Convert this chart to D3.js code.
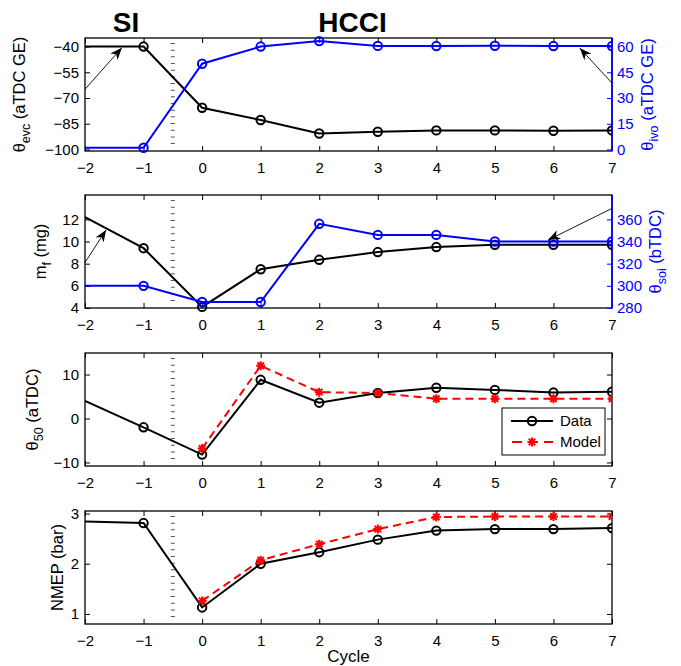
<!DOCTYPE html>
<html><head><meta charset="utf-8">
<script src="https://cdn.jsdelivr.net/npm/d3@7"></script>
<style>
body{margin:0;background:#fff;}
svg{display:block;font-family:"Liberation Sans",Arial,Helvetica,sans-serif;}
</style></head><body>
<svg id="chart" width="681" height="666"></svg>
<script>
// Engine cycle index for the SI -> HCCI mode switch
const cycles = [-2, -1, 0, 1, 2, 3, 4, 5, 6, 7];
// Exhaust valve closing / intake valve opening (deg aTDC gas exchange)
const thetaEvc = [-40, -40, -75.7, -82.8, -90.7, -89.7, -88.9, -88.9, -89.1, -88.9];
const thetaIvo = [1, 1, 50, 60, 63.2, 60.4, 60.3, 60.5, 60.3, 60.3];
// Injected fuel mass (mg) and start of injection (deg bTDC)
const fuelMass = [12.2, 9.4, 4.1, 7.5, 8.35, 9.05, 9.5, 9.7, 9.7, 9.7];
const thetaSoi = [300, 300, 285.4, 285.4, 356, 346, 346, 340, 340, 340];
// Combustion phasing CA50 (deg aTDC): measured and predicted
const theta50Data = [4.0, -2.0, -8.2, 8.8, 3.6, 5.8, 7.0, 6.5, 5.9, 6.1];
const theta50Model = [null, null, -6.8, 12.0, 6.0, 5.8, 4.5, 4.5, 4.5, 4.5];
// Net mean effective pressure (bar): measured and predicted
const nmepData = [2.84, 2.81, 1.13, 2.0, 2.23, 2.48, 2.66, 2.69, 2.69, 2.71];
const nmepModel = [null, null, 1.26, 2.07, 2.39, 2.69, 2.93, 2.94, 2.94, 2.94];

// Tick values
const xTicks = [-2, -1, 0, 1, 2, 3, 4, 5, 6, 7];
const evcTicks = [-100, -85, -70, -55, -40];
const ivoTicks = [0, 15, 30, 45, 60];
const mfTicks = [4, 6, 8, 10, 12];
const soiTicks = [280, 300, 320, 340, 360];
const t50Ticks = [-10, 0, 10];
const nmepTicks = [1, 2, 3];

// Mode switch marker and stage headings
const transitionCycle = -0.5;
const stageLabels = [{text: "SI", cycle: -1.3}, {text: "HCCI", cycle: 2.57}];
const legendItems = ["Data", "Model"];

// Arrows pointing each curve to its own axis (cycle, value on the given side)
const evcArrow = {side: "left", from: [-2, -64.9], to: [-1.37, -40.7]};
const ivoArrow = {side: "right", from: [7, 38.7], to: [6.45, 59.1]};
const mfArrow = {side: "left", from: [-2, 8.1], to: [-1.64, 11.05]};
const soiArrow = {side: "right", from: [7, 369.9], to: [5.91, 341.4]};

const BLUE = "#0000ff", RED = "#ff0000", BLACK = "#000";
const svg = d3.select("#chart");
const x = d3.scaleLinear().domain([-2, 7]).range([85, 612]);

const defs = svg.append("defs");
defs.append("marker").attr("id", "arrowHead")
  .attr("viewBox", "-12 -6 14 12").attr("refX", 0).attr("refY", 0)
  .attr("markerWidth", 14).attr("markerHeight", 12)
  .attr("markerUnits", "userSpaceOnUse").attr("orient", "auto")
  .append("path").attr("d", "M0,0 L-12,-4.8 L-8.5,0 L-12,4.8 Z").attr("fill", BLACK);

const fmt = d3.format("");

function makePanel(top, bottom, leftDomain, leftTicks, rightDomain, rightTicks) {
  const g = svg.append("g");
  const yL = d3.scaleLinear().domain(leftDomain).range([bottom, top]);
  const yR = rightDomain ? d3.scaleLinear().domain(rightDomain).range([bottom, top]) : null;
  const clipId = "clip" + top;
  defs.append("clipPath").attr("id", clipId).append("rect")
    .attr("x", x.range()[0]).attr("y", top - 6)
    .attr("width", x.range()[1] - x.range()[0]).attr("height", bottom - top + 12);

  g.append("rect").attr("x", x.range()[0]).attr("y", top)
    .attr("width", x.range()[1] - x.range()[0]).attr("height", bottom - top)
    .attr("fill", "#fff").attr("stroke", BLACK).attr("stroke-width", 1.3);

  // mode switch: dotted vertical line
  g.append("line").attr("x1", x(transitionCycle)).attr("x2", x(transitionCycle))
    .attr("y1", top + 5).attr("y2", bottom - 5)
    .attr("stroke", "#555").attr("stroke-width", 4).attr("stroke-dasharray", "1,5.67");

  const axStyle = (sel, color) => {
    sel.select(".domain").remove();
    sel.selectAll("line").attr("stroke", color).attr("stroke-width", 1);
    sel.selectAll("text").attr("fill", color).attr("font-size", 15);
  };
  g.append("g").attr("transform", `translate(0,${bottom})`)
    .call(d3.axisBottom(x).tickValues(xTicks).tickSize(-5).tickSizeOuter(0).tickPadding(11).tickFormat(fmt))
    .call(s => axStyle(s, BLACK));
  g.append("g").attr("transform", `translate(0,${top})`)
    .call(d3.axisTop(x).tickValues(xTicks).tickSize(-5).tickSizeOuter(0).tickFormat(""))
    .call(s => axStyle(s, BLACK));
  g.append("g").attr("transform", `translate(${x.range()[0]},0)`)
    .call(d3.axisLeft(yL).tickValues(leftTicks).tickSize(-5).tickSizeOuter(0).tickPadding(6).tickFormat(fmt))
    .call(s => axStyle(s, BLACK));
  if (yR) {
    g.append("line").attr("x1", x.range()[1]).attr("x2", x.range()[1])
      .attr("y1", top).attr("y2", bottom).attr("stroke", BLUE).attr("stroke-width", 1.6);
    g.append("g").attr("transform", `translate(${x.range()[1]},0)`)
      .call(d3.axisRight(yR).tickValues(rightTicks).tickSize(-5).tickSizeOuter(0).tickPadding(5).tickFormat(fmt))
      .call(s => axStyle(s, BLUE));
  } else {
    g.append("g").attr("transform", `translate(${x.range()[1]},0)`)
      .call(d3.axisRight(yL).tickValues(leftTicks).tickSize(-5).tickSizeOuter(0).tickFormat(""))
      .call(s => axStyle(s, BLACK));
  }
  const plot = g.append("g").attr("clip-path", `url(#${clipId})`);
  return {g, plot, yL, yR, top, bottom};
}

function series(p, y, values, color, marker, dashed) {
  const pts = cycles.map((c, i) => [c, values[i]]).filter(d => d[1] !== null);
  const line = d3.line().x(d => x(d[0])).y(d => y(d[1]));
  p.plot.append("path").datum(pts).attr("d", line).attr("fill", "none")
    .attr("stroke", color).attr("stroke-width", 2)
    .attr("stroke-dasharray", dashed ? "8,5" : null);
  const mk = pts.filter(d => d[0] > x.domain()[0]);
  drawMarkers(p.plot, mk.map(d => [x(d[0]), y(d[1])]), color, marker);
}

function drawMarkers(g, xy, color, marker) {
  if (marker === "circle") {
    g.selectAll(null).data(xy).join("circle")
      .attr("cx", d => d[0]).attr("cy", d => d[1]).attr("r", 4.2)
      .attr("fill", "none").attr("stroke", color).attr("stroke-width", 2);
  } else {
    const r = 4.5, q = r * 0.72;
    g.selectAll(null).data(xy).join("path")
      .attr("d", d => `M${d[0]},${d[1]-r}V${d[1]+r}M${d[0]-r},${d[1]}H${d[0]+r}` +
        `M${d[0]-q},${d[1]-q}L${d[0]+q},${d[1]+q}M${d[0]-q},${d[1]+q}L${d[0]+q},${d[1]-q}`)
      .attr("stroke", color).attr("stroke-width", 2).attr("fill", "none");
  }
}

function arrow(p, a) {
  const y = a.side === "left" ? p.yL : p.yR;
  p.g.append("line")
    .attr("x1", x(a.from[0])).attr("y1", y(a.from[1]))
    .attr("x2", x(a.to[0])).attr("y2", y(a.to[1]))
    .attr("stroke", BLACK).attr("stroke-width", 0.9).attr("marker-end", "url(#arrowHead)");
}

function yLabel(px, cy, main, sub, rest, color) {
  const t = svg.append("text").attr("transform", `translate(${px},${cy}) rotate(-90)`)
    .attr("text-anchor", "middle").attr("fill", color).attr("font-size", 16.5);
  t.append("tspan").text(main);
  if (sub) t.append("tspan").attr("font-size", 12.5).attr("dy", 5).text(sub);
  t.append("tspan").attr("dy", sub ? -5 : 0).text(rest);
}

// Panel 1: valve timings
const p1 = makePanel(38, 151, [-100.9, -35], evcTicks, [-0.9, 65], ivoTicks);
series(p1, p1.yL, thetaEvc, BLACK, "circle");
series(p1, p1.yR, thetaIvo, BLUE, "circle");
arrow(p1, evcArrow);
arrow(p1, ivoArrow);
yLabel(25, 94.5, "θ", "evc", " (aTDC GE)", BLACK);
yLabel(653, 94.5, "θ", "ivo", " (aTDC GE)", BLUE);

// Panel 2: fuel injection
const p2 = makePanel(195, 308, [4, 14.2], mfTicks, [280, 382], soiTicks);
series(p2, p2.yL, fuelMass, BLACK, "circle");
series(p2, p2.yR, thetaSoi, BLUE, "circle");
arrow(p2, mfArrow);
arrow(p2, soiArrow);
yLabel(46, 251.5, "m", "f", " (mg)", BLACK);
yLabel(661, 251.5, "θ", "soi", " (bTDC)", BLUE);

// Panel 3: combustion phasing
const p3 = makePanel(353, 466, [-10.8, 14.9], t50Ticks);
series(p3, p3.yL, theta50Data, BLACK, "circle");
series(p3, p3.yL, theta50Model, RED, "star", true);
yLabel(38, 409.5, "θ", "50", " (aTDC)", BLACK);

// Legend
const lg = p3.g.append("g").attr("transform", "translate(502,408)");
lg.append("rect").attr("width", 103).attr("height", 47)
  .attr("fill", "#fff").attr("stroke", BLACK).attr("stroke-width", 1);
legendItems.forEach((name, i) => {
  const yy = 13 + i * 21;
  const isModel = i === 1;
  const color = isModel ? RED : BLACK;
  lg.append("line").attr("x1", 9).attr("x2", 51).attr("y1", yy).attr("y2", yy)
    .attr("stroke", color).attr("stroke-width", 2)
    .attr("stroke-dasharray", isModel ? "10,6" : null)
    .attr("stroke-dashoffset", isModel ? -1 : 0);
  drawMarkers(lg, [[30, yy]], color, isModel ? "star" : "circle");
  lg.append("text").attr("x", 58).attr("y", yy).attr("dy", "0.35em")
    .attr("font-size", 15).attr("fill", BLACK).text(name);
});

// Panel 4: load
const p4 = makePanel(511, 624, [0.8, 3.05], nmepTicks);
series(p4, p4.yL, nmepData, BLACK, "circle");
series(p4, p4.yL, nmepModel, RED, "star", true);
yLabel(63, 567.5, "NMEP", null, " (bar)", BLACK);

// x-axis title and stage headings
svg.append("text").attr("x", d3.mean(x.range())).attr("y", 662)
  .attr("text-anchor", "middle").attr("font-size", 17).text("Cycle");
svg.selectAll(null).data(stageLabels).join("text")
  .attr("x", d => x(d.cycle)).attr("y", 32).attr("text-anchor", "middle")
  .attr("font-size", 28).attr("font-weight", "bold").text(d => d.text);
</script>
</body></html>
